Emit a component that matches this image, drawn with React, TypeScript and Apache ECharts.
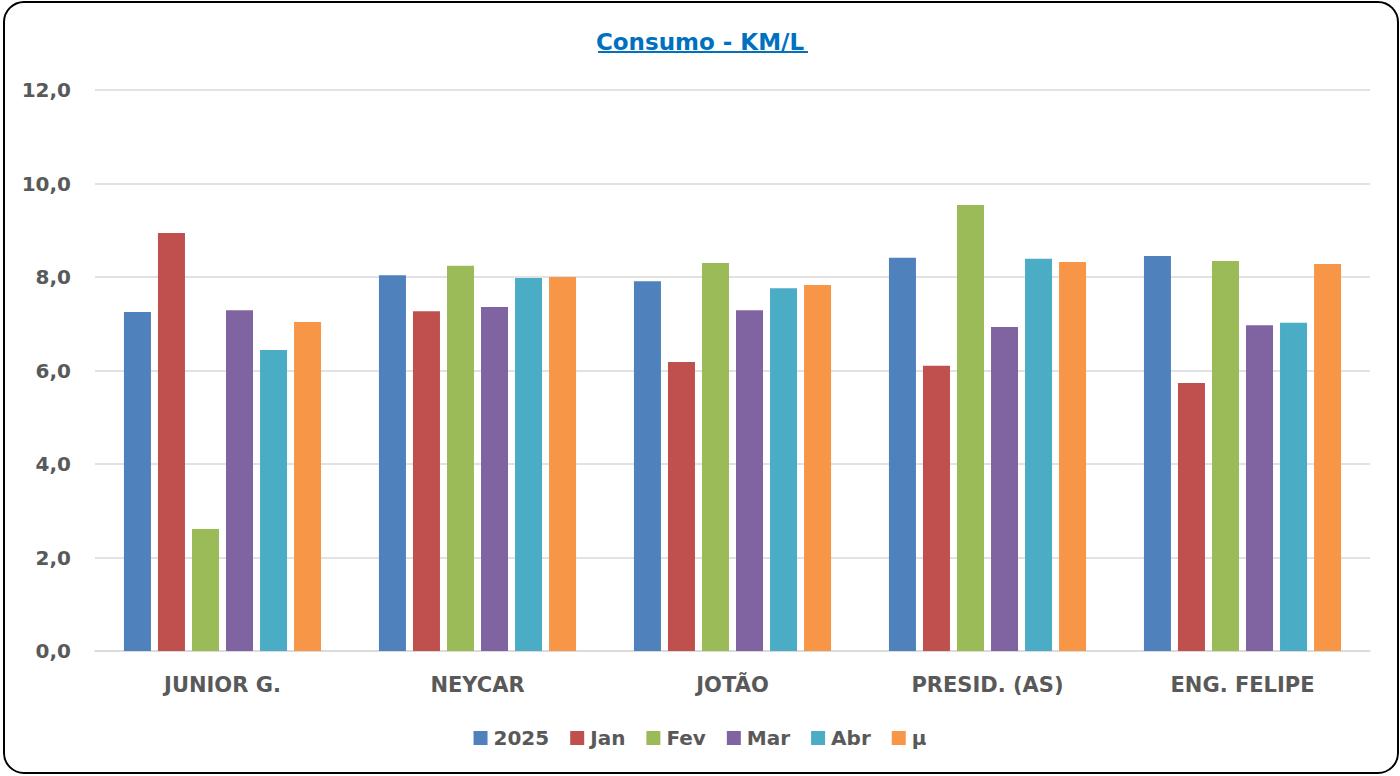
import React, { useEffect, useRef } from "react";
import * as echarts from "echarts";

const categories = ["JUNIOR G.", "NEYCAR", "JOTÃO", "PRESID. (AS)", "ENG. FELIPE"];
const seriesNames = ["2025", "Jan", "Fev", "Mar", "Abr", "μ"];
const colors = ["#4F81BD", "#C0504D", "#9BBB59", "#8064A2", "#4BACC6", "#F79646"];
const v2025 = [7.25, 8.04, 7.91, 8.41, 8.45];
const vJan = [8.94, 7.27, 6.18, 6.1, 5.73];
const vFev = [2.61, 8.24, 8.3, 9.54, 8.34];
const vMar = [7.29, 7.36, 7.29, 6.93, 6.97];
const vAbr = [6.44, 7.98, 7.76, 8.39, 7.02];
const vMu = [7.04, 8.0, 7.83, 8.32, 8.28];
const allValues = [v2025, vJan, vFev, vMar, vAbr, vMu];

export default function App() {
  const ref = useRef<HTMLDivElement>(null);
  useEffect(() => {
    const chart = echarts.init(ref.current!, null, { renderer: "svg" });
    const font = "'DejaVu Sans', sans-serif";
    chart.setOption({
      animation: false,
      backgroundColor: "#ffffff",
      textStyle: { fontFamily: font },
      title: {
        text: "Consumo - KM/L",
        left: "center",
        top: 25,
        textStyle: { color: "#0070C0", fontSize: 23, fontWeight: "bold", fontFamily: font },
      },
      graphic: [
        {
          type: "rect",
          shape: { x: 4, y: 2, width: 1394, height: 771, r: 20 },
          style: { fill: "none", stroke: "#000", lineWidth: 2 },
          silent: true,
        },
        {
          type: "line",
          shape: { x1: 598, y1: 52, x2: 808, y2: 52 },
          style: { stroke: "#0070C0", lineWidth: 2 },
          silent: true,
        },
      ],
      legend: {
        data: seriesNames,
        top: 723,
        left: "center",
        icon: "rect",
        itemWidth: 14,
        itemHeight: 14,
        itemGap: 21,
        textStyle: { color: "#595959", fontSize: 20, fontWeight: "bold", fontFamily: font, padding: [0, 0, 0, 1] },
      },
      grid: { left: 95, right: 30, top: 90, bottom: 125, containLabel: false },
      xAxis: {
        type: "category",
        data: categories,
        axisLine: { lineStyle: { color: "#d9d9d9", width: 1.5 } },
        axisTick: { show: false },
        axisLabel: { color: "#595959", fontSize: 21, fontWeight: "bold", margin: 23, fontFamily: font },
      },
      yAxis: {
        type: "value",
        min: 0,
        max: 12,
        interval: 2,
        axisLine: { show: false },
        axisTick: { show: false },
        splitLine: { lineStyle: { color: "#d9d9d9", width: 1.5 } },
        axisLabel: {
          color: "#595959",
          fontSize: 20,
          fontWeight: "bold",
          margin: 24,
          fontFamily: font,
          formatter: (v: number) => v.toFixed(1).replace(".", ","),
        },
      },
      series: seriesNames.map((name, i) => ({
        name,
        type: "bar",
        data: allValues[i],
        barWidth: 27,
        barGap: "26%",
        itemStyle: { color: colors[i] },
      })),
    });
    return () => chart.dispose();
  }, []);
  return (
    <div
      ref={ref}
      style={{ position: "fixed", left: 0, top: 0, width: 1400, height: 776 }}
    />
  );
}
